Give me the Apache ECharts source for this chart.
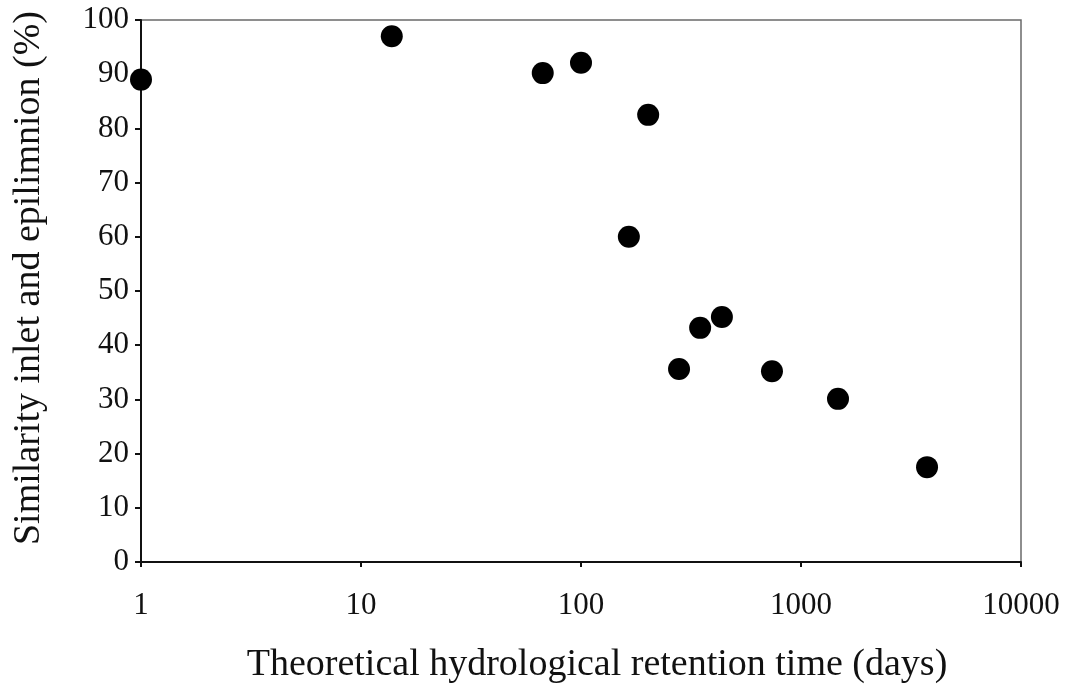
<!DOCTYPE html>
<html>
<head>
<meta charset="utf-8">
<script src="https://cdn.jsdelivr.net/npm/echarts@6/dist/echarts.min.js"></script>
<style>
  html, body { margin: 0; padding: 0; background: #fff; }
  #chart { width: 1072px; height: 684px; }
</style>
</head>
<body>
<div id="chart"></div>
<script>
// retention time (days) and similarity (%)
var retentionDays = [1, 13.8, 67, 100, 202, 165, 348, 437, 279, 738, 1473, 3740];
var similarityPct = [89, 97, 90.2, 92.1, 82.5, 60, 43.2, 45.2, 35.6, 35.2, 30.1, 17.5];
var yTicks = [0, 10, 20, 30, 40, 50, 60, 70, 80, 90, 100];
var xTicks = [1, 10, 100, 1000, 10000];

var points = retentionDays.map(function (d, i) { return [d, similarityPct[i]]; });

var dom = document.getElementById('chart');
var myChart = echarts.init(dom, null, { renderer: 'canvas' });
var fontFam = '"Liberation Serif", "DejaVu Serif", serif';

var option = {
  backgroundColor: '#fff',
  animation: false,
  grid: {
    left: 141,
    right: 51,
    top: 20,
    bottom: 122,
    show: true,
    borderColor: '#6a6a6a',
    borderWidth: 1.5
  },
  xAxis: {
    type: 'log',
    logBase: 10,
    min: xTicks[0],
    max: xTicks[xTicks.length - 1],
    axisLine: { lineStyle: { color: '#111', width: 2 } },
    axisTick: { show: true, inside: false, length: 5, lineStyle: { color: '#111', width: 2 } },
    minorTick: { show: false },
    splitLine: { show: false },
    axisLabel: {
      color: '#111',
      fontFamily: fontFam,
      fontSize: 31,
      margin: 28,
      formatter: function (v) { return String(Math.round(v)); }
    }
  },
  yAxis: {
    type: 'value',
    min: yTicks[0],
    max: yTicks[yTicks.length - 1],
    interval: 10,
    axisLine: { show: true, lineStyle: { color: '#111', width: 2 } },
    axisTick: { show: true, inside: false, length: 6, lineStyle: { color: '#111', width: 2 } },
    splitLine: { show: false },
    axisLabel: {
      color: '#111',
      fontFamily: fontFam,
      fontSize: 31,
      margin: 12
    }
  },
  graphic: [
    {
      type: 'text',
      x: 597,
      y: 665,
      style: {
        text: 'Theoretical hydrological retention time (days)',
        fill: '#111',
        font: '38px ' + fontFam,
        textAlign: 'center',
        textVerticalAlign: 'middle'
      }
    },
    {
      type: 'text',
      x: 29,
      y: 278,
      rotation: Math.PI / 2,
      style: {
        text: 'Similarity inlet and epilimnion (%)',
        fill: '#111',
        font: '38px ' + fontFam,
        textAlign: 'center',
        textVerticalAlign: 'middle'
      }
    }
  ],
  series: [
    {
      type: 'scatter',
      data: points,
      symbol: 'circle',
      symbolSize: 22,
      itemStyle: { color: '#000', opacity: 1 }
    }
  ]
};

if (option && typeof option === 'object') {
  myChart.setOption(option);
}

window.addEventListener('resize', myChart.resize);
</script>
</body>
</html>
